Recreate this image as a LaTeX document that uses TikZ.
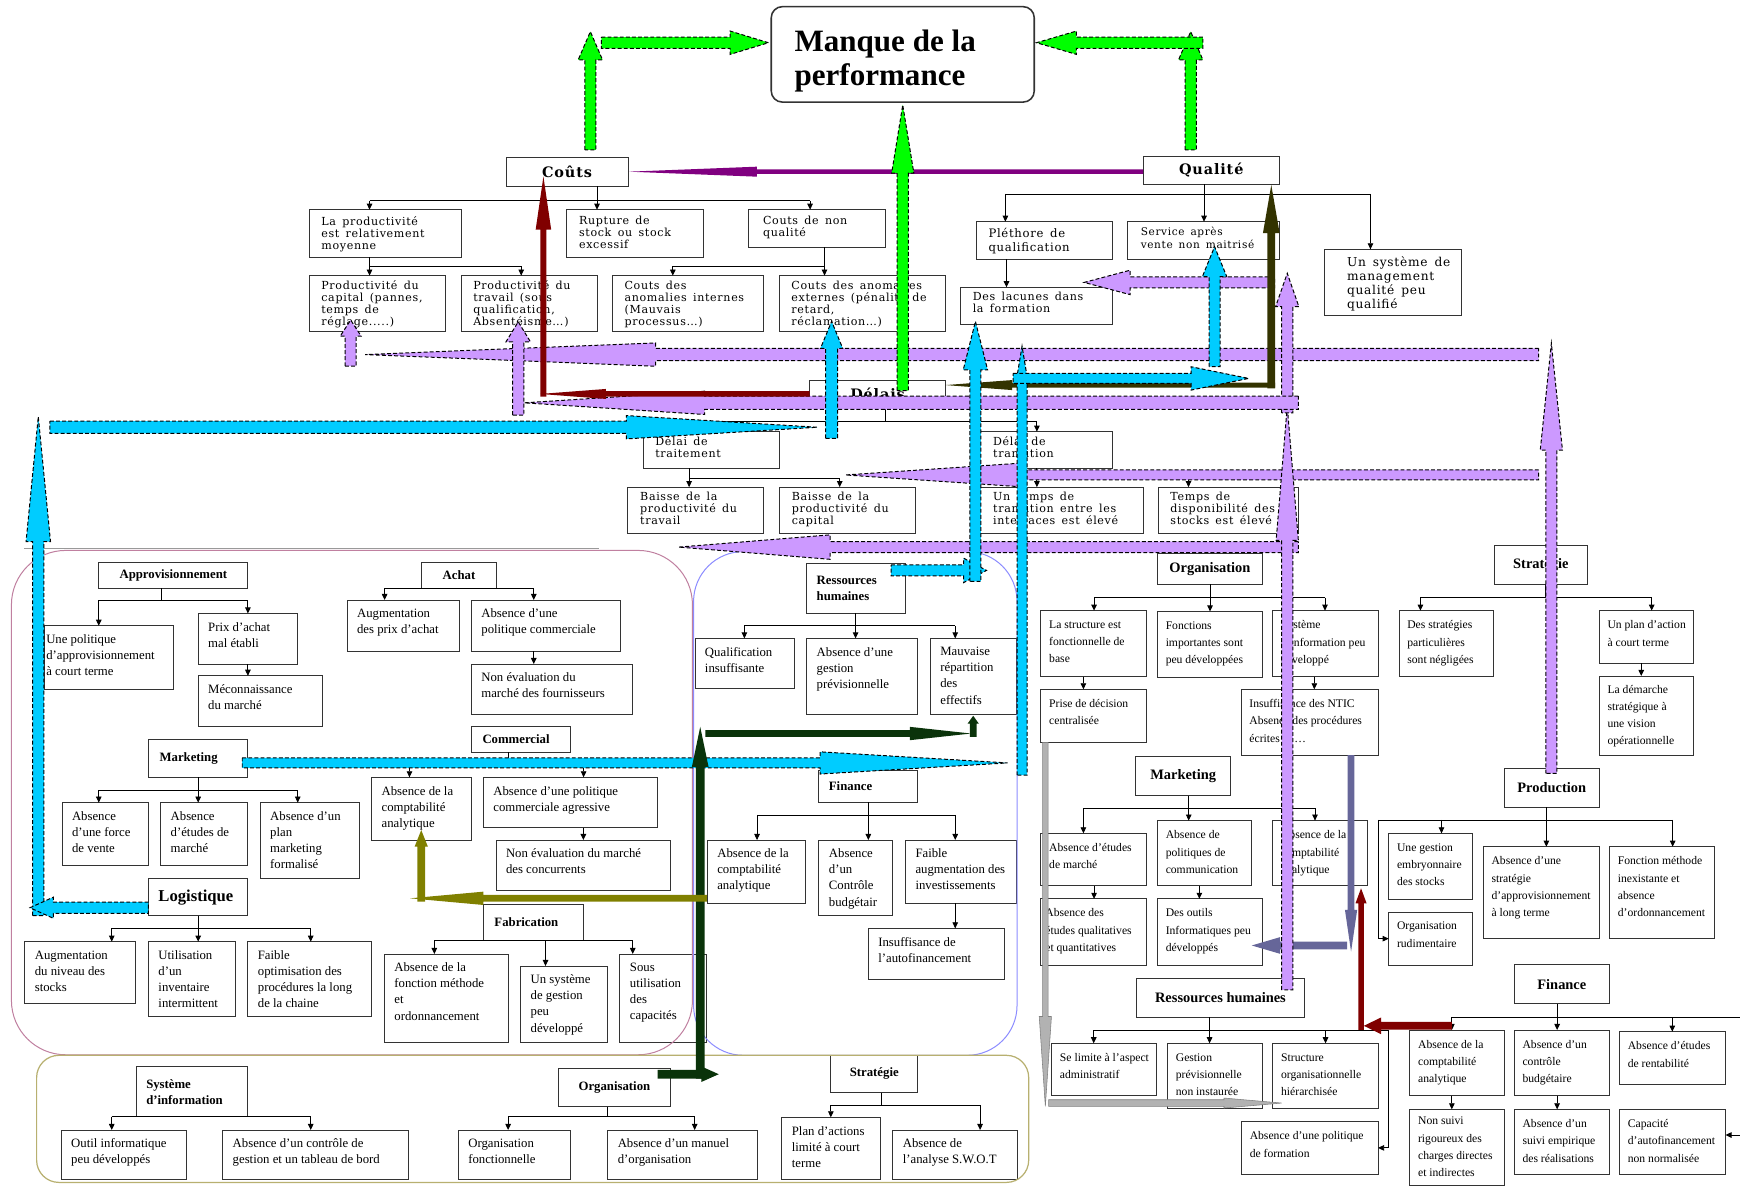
\documentclass[tikz,border=0pt]{standalone}
\usepackage{fontspec}
\setmainfont{Liberation Serif}
\newfontfamily\topfont[LetterSpace=6,WordSpace=1.5]{DejaVu Serif}
\usetikzlibrary{arrows.meta}

\definecolor{lav}{HTML}{CC99FF}
\definecolor{cy}{HTML}{00CCFF}
\definecolor{grn}{HTML}{00FF00}
\definecolor{purp}{HTML}{800080}
\definecolor{mar}{HTML}{800000}
\definecolor{dolive}{HTML}{333300}
\definecolor{dgr}{HTML}{0A330A}
\definecolor{oliv}{HTML}{808000}
\definecolor{slate}{HTML}{666699}
\definecolor{fpink}{HTML}{C080A0}
\definecolor{fblue}{HTML}{8C8CFF}
\definecolor{folive}{HTML}{B8B070}

\newcommand\tpad{4pt}
\newcommand\lpad{8pt}

% text box, text top-left: [style]{name}{x1}{y1}{x2}{y2}{text}
\newcommand{\bx}[7][]{%
  \node[cell,#1] (#2) at (#3,#4)
   {\parbox[c][\dimexpr#6pt-#4pt\relax][t]{\dimexpr#5pt-#3pt\relax}%
     {\vspace*{\tpad}\raggedright\leftskip=\lpad\relax\rightskip=0pt plus 1fil\relax #7\par}};}
% heading box, text centred
\newcommand{\cbx}[7][]{%
  \node[cell,#1] (#2) at (#3,#4)
   {\parbox[c][\dimexpr#6pt-#4pt\relax][c]{\dimexpr#5pt-#3pt\relax}{\centering #7\par}};}
% heading box, text left, vertically centred
\newcommand{\lbx}[7][]{%
  \node[cell,#1] (#2) at (#3,#4)
   {\parbox[c][\dimexpr#6pt-#4pt\relax][c]{\dimexpr#5pt-#3pt\relax}%
     {\raggedright\leftskip=\lpad\relax #7\par}};}

% tree: parent, stem x, bar y, bar from, bar to, list x/child
\newcommand{\branch}[6]{%
  \draw[lnk] (#2,0 |- #1.south) -- (#2,#3);
  \draw[lnk] (#4,#3) -- (#5,#3);
  \foreach \tx/\tc in {#6}{\draw[lnka] (\tx,#3) -- (\tx,0 |- \tc.north);}}

% block arrows: style, tail, head base, tip, axis, shaft half, head half
\newcommand{\blockh}[7]{\path[#1] (#2,{#5-#6}) -- (#3,{#5-#6}) -- (#3,{#5-#7}) -- (#4,#5)
  -- (#3,{#5+#7}) -- (#3,{#5+#6}) -- (#2,{#5+#6}) -- cycle;}
\newcommand{\blockv}[7]{\path[#1] ({#5-#6},#2) -- ({#5-#6},#3) -- ({#5-#7},#3) -- (#5,#4)
  -- ({#5+#7},#3) -- ({#5+#6},#3) -- ({#5+#6},#2) -- cycle;}

\tikzset{
  cell/.style={draw=black!80, line width=0.9pt, fill=white, inner sep=0pt, outer sep=0pt, anchor=north west},
  padt/.code={\def\tpad{#1}},
  padl/.code={\def\lpad{#1}},
  tbx/.style={font=\topfont\fontsize{10}{10.8}\selectfont, padt=4.5pt, padl=11pt},
  lbx/.style={font=\fontsize{11.5}{14.5}\selectfont, padt=8pt, padl=9pt},
  rbx/.style={font=\fontsize{10.5}{15.6}\selectfont, padt=9pt, padl=7.5pt},
  hdl/.style={font=\bfseries\fontsize{11.5}{14.5}\selectfont, padl=9pt},
  hdr/.style={font=\bfseries\fontsize{13}{15}\selectfont},
  hdt/.style={font=\topfont\bfseries\fontsize{13}{15}\selectfont},
  lnk/.style={draw=black, line width=0.8pt},
  lnka/.style={lnk, -{Triangle[length=5.5pt,width=5pt]}},
  ba/.style={fill=#1, draw=black, line width=0.9pt, dash pattern=on 3.5pt off 2pt},
  bs/.style={fill=#1, draw=none},
  bgr/.style={fill=black!30, draw=black!50, line width=0.5pt}
}

\begin{document}
\begin{tikzpicture}[x=1pt,y=-1pt]
\fill[white] (0,0) rectangle (1568,1069);
\useasboundingbox (0,0) rectangle (1568,1069);

% ---------- upper part: costs, quality, delays ----------
\bx[rounded corners=10pt, line width=1.4pt, font=\bfseries\fontsize{28}{31}\selectfont, padt=21pt, padl=21pt]{manque}{695}{6}{932}{92}{Manque de la\\performance}
\cbx[hdt]{couts}{456}{142}{566}{168}{Coûts}
\cbx[hdt]{qualite}{1030}{141}{1153}{166}{Qualité}
\cbx[hdt]{delais}{729.5}{342.5}{852}{368}{Délais}

\bx[tbx, padt=6pt]{lprod}{278.6}{189}{415.5}{232}{La productivité\\est relativement\\moyenne}
\bx[tbx, padt=6pt]{rupt}{510.8}{189}{633.9}{232}{Rupture de\\stock ou stock\\excessif}
\bx[tbx, padt=6pt, padl=13pt]{cnq}{674.6}{189}{798.4}{223}{Couts de non\\qualité}
\bx[tbx]{pcap}{278.6}{248.4}{401.7}{299}{Productivité du\\capital (pannes,\\temps de\\réglage.....)}
\bx[tbx]{ptrav}{415.5}{248.4}{538}{299}{Productivité du\\travail (sous\\qualification,\\Absentéisme…)}
\bx[tbx]{cai}{551.8}{248.4}{688.4}{299}{Couts des\\anomalies internes\\(Mauvais\\processus…)}
\bx[tbx]{cae}{702.2}{248.4}{852.2}{299}{Couts des anomalies\\externes (pénalité de\\retard,\\réclamation…)}
\bx[tbx, font=\topfont\fontsize{10.5}{12}\selectfont, padt=6pt]{plet}{879.8}{199.8}{1002.9}{233.4}{Pléthore de\\qualification}
\bx[tbx, font=\topfont\fontsize{9.5}{11.2}\selectfont, padt=5pt, padl=12pt]{sav}{1016}{199.8}{1153}{233.4}{Service après\\vente non maitrisé}
\bx[tbx, font=\topfont\fontsize{11}{12.5}\selectfont, padt=7pt, padl=20pt]{usm}{1193.9}{224.7}{1317}{283.9}{Un système de\\management\\qualité peu\\qualifié}
\bx[tbx]{lac}{865.6}{258.9}{1002.9}{292}{Des lacunes dans\\la formation}
\bx[tbx]{dtrait}{579.5}{389}{702}{422}{Délai de\\traitement}
\bx[tbx]{dtrans}{884}{389}{1002.7}{422}{Délai de\\transition}
\bx[tbx]{bpt}{565.9}{439}{688.4}{481}{Baisse de la\\productivité du\\travail}
\bx[tbx]{bpc}{702.5}{439}{825}{481}{Baisse de la\\productivité du\\capital}
\bx[tbx]{utt}{884}{439}{1030}{481}{Un temps de\\transition entre les\\interfaces est élevé}
\bx[tbx]{tds}{1043.7}{439}{1170}{481}{Temps de\\disponibilité des\\stocks est élevé}

% ---------- left block ----------
\cbx[hdl]{appro}{89}{507}{223.4}{530.2}{Approvisionnement}
\cbx[hdl]{achat}{380}{507}{447.2}{530}{Achat}
\bx[lbx, padl=2pt]{unepol}{39.7}{563.9}{156.2}{621}{Une politique\\d'approvisionnement\\à court terme}
\bx[lbx]{prix}{178.6}{552.8}{268.3}{598.4}{Prix d'achat\\mal établi}
\bx[lbx]{mecon}{178.6}{609}{290.7}{654.9}{Méconnaissance\\du marché}
\bx[lbx]{augprix}{312.8}{540.7}{413.8}{586.7}{Augmentation\\des prix d'achat}
\bx[lbx]{abspolc}{424.8}{540.7}{559}{586.7}{Absence d'une\\politique commerciale}
\bx[lbx]{nonevf}{424.8}{598.4}{570}{643.5}{Non évaluation du\\marché des fournisseurs}
\lbx[hdl, padl=10pt]{commercial}{424.8}{654.9}{513.8}{678}{Commercial}
\lbx[hdl, padl=10pt]{mkt}{133.8}{666.3}{223.4}{700.5}{Marketing}
\bx[lbx]{absforce}{55.9}{723.3}{133.8}{779.8}{Absence\\d'une force\\de vente}
\bx[lbx]{absetud}{144.8}{723.3}{223.4}{779.8}{Absence\\d'études de\\marché}
\bx[lbx]{absplan}{234.5}{723.3}{324}{791.5}{Absence d'un\\plan\\marketing\\formalisé}
\bx[lbx]{absca1}{334.9}{700.5}{424.9}{757}{Absence de la\\comptabilité\\analytique}
\bx[lbx]{abspolag}{435.6}{700.5}{592.4}{745.9}{Absence d'une politique\\commerciale agressive}
\bx[lbx]{nonevc}{447}{757}{603.8}{802.6}{Non évaluation du marché\\des concurrents}
\lbx[hdl, font=\bfseries\fontsize{15}{17}\selectfont, padl=9pt]{logi}{133.8}{791.5}{223.4}{825.4}{Logistique}
\bx[lbx]{augniv}{22.4}{848.6}{122.4}{904.7}{Augmentation\\du niveau des\\stocks}
\bx[lbx]{utilinv}{133.8}{848.6}{212}{916}{Utilisation\\d'un\\inventaire\\intermittent}
\bx[lbx]{faible1}{223.4}{848.6}{335.2}{916}{Faible\\optimisation des\\procédures la long\\de la chaine}
\lbx[hdl, padl=10pt]{fabr}{435.6}{814.7}{525.7}{847.7}{Fabrication}
\bx[lbx]{absfm}{346.4}{859.7}{458.1}{939}{Absence de la\\fonction méthode\\et\\ordonnancement}
\bx[lbx]{sysgest}{469.2}{870.5}{547.6}{939}{Un système\\de gestion\\peu\\développé}
\bx[lbx]{sousut}{558.7}{859.7}{636.8}{939}{Sous\\utilisation\\des\\capacités}

% ---------- middle block ----------
\lbx[hdl]{rhm}{727}{507.7}{816}{552.7}{Ressources\\humaines}
\bx[lbx]{qualins}{626.3}{575.3}{715.6}{620.6}{Qualification\\insuffisante}
\bx[lbx]{absgp}{727}{575.3}{827}{643.5}{Absence d'une\\gestion\\prévisionnelle}
\bx[lbx]{mauv}{838.4}{575.3}{916}{643.5}{Mauvaise\\répartition\\des\\effectifs}
\lbx[hdl]{finm}{738}{693.9}{827}{723}{Finance}
\bx[lbx]{absca2}{637.4}{757}{726.3}{814}{Absence de la\\comptabilité\\analytique}
\bx[lbx]{abscb1}{738}{757}{804.6}{825.4}{Absence\\d'un\\Contrôle\\budgétair}
\bx[lbx]{faibinv}{816}{757}{916}{814}{Faible\\augmentation des\\investissements}
\bx[lbx]{insaut}{782.5}{836.6}{905.6}{882.5}{Insuffisance de\\l'autofinancement}

% ---------- bottom block ----------
\lbx[hdl]{sysinf}{122.8}{961.2}{223.4}{1006.3}{Système\\d'information}
\bx[lbx]{outil}{55.2}{1018.3}{168}{1063.3}{Outil informatique\\peu développés}
\bx[lbx]{abscg}{200.7}{1018.3}{368.3}{1063.3}{Absence d'un contrôle de\\gestion et un tableau de bord}
\cbx[hdl]{orgb}{503.4}{962.7}{604}{997.3}{Organisation}
\bx[lbx]{orgfonc}{413}{1018.3}{513.8}{1063.3}{Organisation\\fonctionnelle}
\bx[lbx]{absman}{547.7}{1018.3}{682.2}{1063.3}{Absence d'un manuel\\d'organisation}
\cbx[hdl]{stratb}{748.7}{950.7}{827}{984.6}{Stratégie}
\bx[lbx]{planact}{704.6}{1006.9}{793.6}{1063.3}{Plan d'actions\\limité à court\\terme}
\bx[lbx]{swot}{804.6}{1018.3}{916.7}{1063.3}{Absence de\\l'analyse S.W.O.T}

% ---------- right block ----------
\cbx[hdr]{orgr}{1043}{498.6}{1137.6}{526.6}{Organisation}
\bx[rbx]{lastr}{938}{550.3}{1033.4}{609.8}{La structure est\\fonctionnelle de\\base}
\bx[rbx]{fonctimp}{1043}{551}{1137.6}{610.7}{Fonctions\\importantes sont\\peu développées}
\bx[rbx]{sysinfr}{1146.9}{550.3}{1242.1}{609.8}{Système\\d'information peu\\développé}
\bx[rbx]{prise}{938}{621.2}{1033.4}{669}{Prise de décision\\centralisée}
\bx[rbx]{insntic}{1118.4}{621.2}{1242.1}{680.4}{Insuffisance des NTIC\\Absence des procédures\\écrites ……}
\cbx[hdr]{mktr}{1023.4}{681.9}{1109}{717.3}{Marketing}
\bx[rbx]{absetudr}{938}{751}{1033.4}{798.4}{Absence d'études\\de marché}
\bx[rbx]{abspolcom}{1043}{739.5}{1128}{798.4}{Absence de\\politiques de\\communication}
\bx[rbx]{absca3}{1146.9}{739.5}{1232.2}{798.4}{Absence de la\\comptabilité\\analytique}
\bx[rbx, padl=4pt]{absqual}{938}{810}{1033.4}{869.6}{Absence des\\études qualitatives\\et quantitatives}
\bx[rbx]{desout}{1043}{810}{1137.6}{869.6}{Des outils\\Informatiques peu\\développés}
\cbx[hdr]{rhr}{1024}{881.6}{1175.6}{916.8}{Ressources humaines}
\bx[rbx]{selim}{947.7}{940.2}{1042.5}{986.8}{Se limite à l'aspect\\administratif}
\bx[rbx]{gestprev}{1052.1}{940.2}{1137.6}{998.8}{Gestion\\prévisionnelle\\non instaurée}
\bx[rbx]{structorg}{1147}{940.2}{1241.8}{998.8}{Structure\\organisationnelle\\hiérarchisée}
\bx[rbx]{abspolform}{1118.7}{1010.8}{1241.8}{1058}{Absence d'une politique\\de formation}
\cbx[hdr]{stratr}{1346.3}{491.2}{1430.7}{526.6}{Stratégie}
\bx[rbx]{desstrat}{1260.7}{550.3}{1345.6}{609.8}{Des stratégies\\particulières\\sont négligées}
\bx[rbx]{unplan}{1441.1}{550.3}{1526.3}{597.8}{Un plan d'action\\à court terme}
\bx[rbx, padt=8pt]{demarche}{1441.1}{609.2}{1526.3}{680.4}{La démarche\\stratégique à\\une vision\\opérationnelle}
\cbx[hdr]{prodr}{1355.6}{692.4}{1441.1}{727.6}{Production}
\bx[rbx]{gestemb}{1251.4}{751}{1327.3}{810.4}{Une gestion\\embryonnaire\\des stocks}
\bx[rbx]{absstrat}{1336.6}{763}{1441.1}{845.6}{Absence d'une\\stratégie\\d'approvisionnement\\à long terme}
\bx[rbx]{fonctmeth}{1450.4}{763}{1545.2}{845.6}{Fonction méthode\\inexistante et\\absence\\d'ordonnancement}
\bx[rbx]{orgrud}{1251.4}{822.1}{1327.3}{869.6}{Organisation\\rudimentaire}
\cbx[hdr]{finr}{1364.5}{869}{1450.4}{904.7}{Finance}
\bx[rbx]{absca4}{1270.4}{928.2}{1355.6}{987.3}{Absence de la\\comptabilité\\analytique}
\bx[rbx]{abscb2}{1364.5}{928.2}{1450.4}{987.3}{Absence d'un\\contrôle\\budgétaire}
\bx[rbx]{absrent}{1459.4}{929.7}{1554.9}{977.7}{Absence d'études\\de rentabilité}
\bx[rbx, padt=7pt]{nonsuivi}{1270.4}{999.7}{1355.6}{1068.5}{Non suivi\\rigoureux des\\charges directes\\et indirectes}
\bx[rbx]{abssuivi}{1364.5}{999.7}{1450.4}{1058}{Absence d'un\\suivi empirique\\des réalisations}
\bx[rbx]{capac}{1459.4}{999.7}{1554.9}{1058}{Capacité\\d'autofinancement\\non normalisée}

% ---------- region frames ----------
\draw[draw=black!40, line width=0.9pt] (22,494) -- (540,494);
\draw[draw=fpink, line width=0.9pt, rounded corners=49pt] (10.3,496) rectangle (624,950.5);
\draw[draw=fblue, line width=0.9pt, rounded corners=45pt] (625,497) rectangle (916.5,951);
\draw[draw=folive, line width=1.1pt, rounded corners=20pt] (33,951) rectangle (927,1065.5);

% ---------- tree connectors ----------
\branch{couts}{538}{181}{333}{730}{333/lprod,538/rupt,730/cnq}
\branch{lprod}{333}{240}{333}{469.7}{333/pcap,469.7/ptrav}
\branch{cnq}{743}{240}{606.3}{743}{606.3/cai,743/cae}
\draw[lnka] (1085,0 |- qualite.south) -- (1085,0 |- sav.north);
\draw[lnk] (906,174.8) -- (1235,174.8);
\draw[lnka] (906,174.8) -- (906,0 |- plet.north);
\draw[lnka] (1235,174.8) -- (1235,0 |- usm.north);
\draw[lnka] (907,0 |- plet.south) -- (907,0 |- lac.north);
\branch{delais}{797.7}{380}{621}{934.4}{621/dtrait,934.4/dtrans}
\branch{dtrait}{621}{431}{621}{756.7}{621/bpt,756.7/bpc}
\branch{dtrans}{934.4}{431}{934.4}{1071}{934.4/utt,1071/tds}

\branch{appro}{145.5}{540.7}{89}{223.4}{89/unepol,223.4/prix}
\draw[lnka] (223.4,0 |- prix.south) -- (223.4,0 |- mecon.north);
\branch{achat}{413}{530}{346.6}{481}{346.6/augprix,481/abspolc}
\draw[lnka] (481,0 |- abspolc.south) -- (481,0 |- nonevf.north);
\branch{mkt}{178.6}{712}{89}{268.3}{89/absforce,178.6/absetud,268.3/absplan}
\branch{commercial}{458.6}{688}{369}{525.9}{369/absca1,525.9/abspolag}
\draw[lnka] (525.7,0 |- abspolag.south) -- (525.7,0 |- nonevc.north);
\branch{logi}{178.6}{836.6}{100.7}{280}{100.7/augniv,178.6/utilinv,280/faible1}
\branch{fabr}{491.6}{847.7}{391.4}{570.2}{391.4/absfm,491.6/sysgest,570.2/sousut}

\branch{rhm}{771}{564}{670.8}{860.8}{670.8/qualins,771/absgp,860.8/mauv}
\branch{finm}{782.5}{734.4}{682.2}{860.8}{682.2/absca2,782.5/abscb1,860.8/faibinv}
\draw[lnka] (860.8,0 |- faibinv.south) -- (860.8,0 |- insaut.north);

\branch{sysinf}{173}{1006.3}{100.7}{280}{100.7/outil,280/abscg}
\branch{orgb}{547.7}{1006.3}{457.9}{626}{457.9/orgfonc,626/absman}
\branch{stratb}{794.3}{995.8}{748.7}{883.2}{748.7/planact,883.2/swot}

\branch{orgr}{1090.4}{538.6}{985.9}{1194}{985.9/lastr,1090.4/fonctimp,1194/sysinfr}
\draw[lnka] (976.3,0 |- lastr.south) -- (976.3,0 |- prise.north);
\draw[lnka] (1184.4,0 |- sysinfr.south) -- (1184.4,0 |- insntic.north);
\branch{mktr}{1071.2}{728.4}{976.3}{1185}{976.3/absetudr,1071.2/abspolcom,1185/absca3}
\draw[lnka] (985.9,0 |- absetudr.south) -- (985.9,0 |- absqual.north);
\draw[lnka] (1080.8,0 |- abspolcom.south) -- (1080.8,0 |- desout.north);
\branch{rhr}{1090}{928.2}{985.6}{1250.8}{985.6/selim,1090/gestprev,1194.5/structorg}
\draw[lnka] (1250.8,928.2) |- (abspolform.east);
\branch{stratr}{1392.8}{538.6}{1280}{1488.4}{1280/desstrat,1488.4/unplan}
\draw[lnka] (1479,0 |- unplan.south) -- (1479,0 |- demarche.north);
\branch{prodr}{1393.5}{738.9}{1241.8}{1507.3}{1299/gestemb,1393.5/absstrat,1507.3/fonctmeth}
\draw[lnka] (1241.8,738.9) |- (orgrud.west);
\branch{finr}{1403.2}{916.8}{1308.3}{1568}{1308.3/absca4,1403.2/abscb2,1507/absrent}
\draw[lnka] (1308.3,0 |- absca4.south) -- (1308.3,0 |- nonsuivi.north);
\draw[lnka] (1403.2,0 |- abscb2.south) -- (1403.2,0 |- abssuivi.north);
\draw[lnka] (1568,1022.8) -- (capac.east |- 0,1022.8);

% ---------- block arrows ----------
% slate
\blockv{bs=slate}{680.4}{820}{857.6}{1217.5}{3}{5.5}
\blockh{bs=slate}{1214}{1153.5}{1128}{852}{3.5}{7.5}
% grey
\blockv{bgr}{669}{916}{997}{942}{2.5}{5.5}
\blockh{bgr}{945}{1103}{1155}{994}{3}{4.5}
% lavender
\blockh{ba=lav}{1386.6}{590.8}{329}{319.5}{5.5}{10.5}
\blockv{ba=lav}{330}{303}{288.4}{316}{5}{9.5}
\blockv{ba=lav}{374}{308}{290}{467}{5}{11}
\blockh{ba=lav}{1386.6}{918}{762}{428}{4.5}{10.5}
\blockh{ba=lav}{1170}{748}{611.6}{493}{5}{11}
\blockv{ba=lav}{697}{405.6}{309.4}{1398}{5}{10}
\blockv{ba=lav}{892}{487}{366}{1160}{5}{10}
\blockv{ba=lav}{372}{276.4}{246.3}{1160}{5}{10.5}
\blockh{ba=lav}{1170}{635}{472.5}{363}{6}{10.5}
\blockh{ba=lav}{1148.7}{1018.4}{977}{254.5}{5}{11}
% maroon
\blockh{bs=mar}{729.5}{546}{486.7}{355}{2.5}{4.5}
\blockv{bs=mar}{357.5}{207}{159}{489.7}{2.7}{7}
\blockh{bs=mar}{1308.3}{1244.5}{1229}{924.4}{3.5}{7.5}
\blockv{bs=mar}{928}{814}{800.5}{1226.5}{2.5}{5}
% dark olive
\blockh{bs=dolive}{1149}{912}{852}{347}{2.2}{4.5}
\blockv{bs=dolive}{350}{210}{166.7}{1145.6}{3.5}{7.5}
% purple
\blockh{bs=purp}{1030}{682}{566.7}{154.7}{2}{4.5}
% cyan
\blockv{ba=cy}{825}{488}{375.5}{34.5}{5}{11}
\blockh{ba=cy}{133.8}{48}{27}{818}{5}{9.5}
\blockh{ba=cy}{45}{564.4}{736.5}{385}{5.5}{10.5}
\blockv{ba=cy}{395}{313.9}{289.6}{749.4}{5.5}{10}
\blockh{ba=cy}{218.3}{739}{908}{687.5}{4.5}{10}
\blockv{ba=cy}{698.5}{345}{312}{921}{4.5}{5.5}
\blockh{ba=cy}{913}{1073.4}{1125.3}{341}{4.5}{10.5}
\blockh{ba=cy}{803}{868.4}{889}{514}{5}{11}
\blockv{ba=cy}{524}{333.4}{289.6}{879}{5}{11}
\blockv{ba=cy}{330.4}{249.3}{222.3}{1094.5}{5}{11}
% green
\blockv{ba=grn}{135}{54}{28.5}{532}{5}{11}
\blockh{ba=grn}{542}{658}{692.5}{38.5}{5}{10.5}
\blockv{ba=grn}{135}{54}{28.5}{1073}{5}{11}
\blockh{ba=grn}{1084}{970}{934}{38.5}{5}{10.5}
\blockv{ba=grn}{352}{156}{94.6}{813.5}{5}{10}
% dark green
\blockv{bs=dgr}{972}{691}{655}{631}{4}{7.5}
\blockh{bs=dgr}{592.5}{632}{647.7}{968}{4}{7}
\blockh{bs=dgr}{635.6}{820}{875}{661}{3}{6}
\blockv{bs=dgr}{664}{652}{645}{877}{3}{5}
% olive
\blockh{bs=oliv}{636.9}{435.6}{369.5}{809.5}{3}{6}
\blockv{bs=oliv}{812.5}{763}{748}{379.6}{3.5}{6}
\end{tikzpicture}
\end{document}
